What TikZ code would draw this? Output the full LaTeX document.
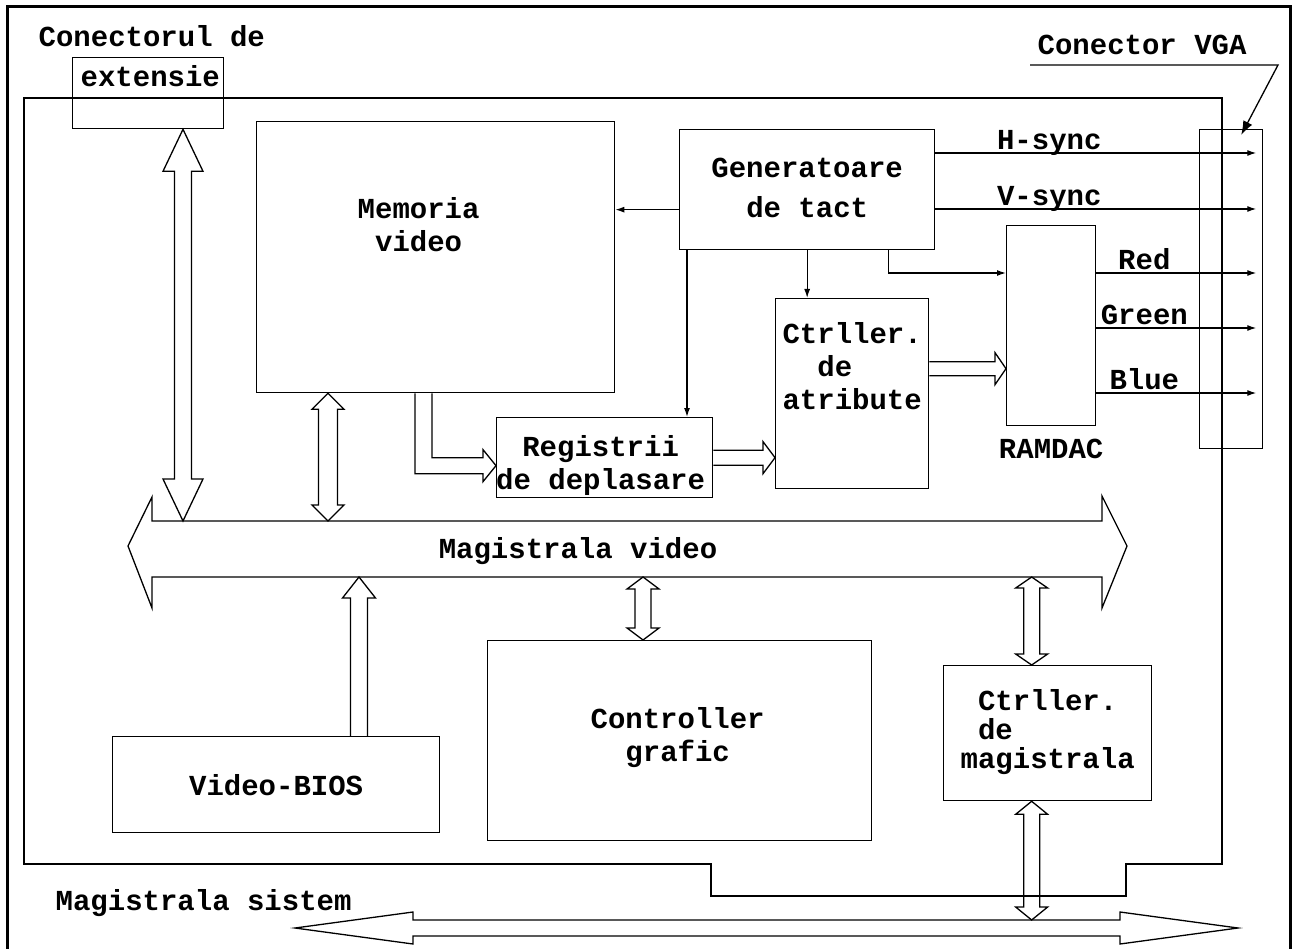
\documentclass[tikz,border=0pt]{standalone}
\usepackage{fontspec}
\setmonofont{Liberation Mono}
\usetikzlibrary{calc,positioning,arrows.meta}

% hollow bus arrows: vertical double, vertical single, horizontal single
\newcommand{\fatv}[5]{%
  \draw (#1) -- ++(#4,#5) -- ++(#3-#4,0) -- ($(#2)+(#3,-#5)$) -- ++(#4-#3,0)
    -- (#2) -- ++(-#4,-#5) -- ++(#4-#3,0) -- ($(#1)+(-#3,#5)$) -- ++(#3-#4,0) -- cycle;}
\newcommand{\fatup}[5]{%
  \draw ($(#2)+(-#3,0)$) -- ($(#1)+(-#3,#5)$) -- ++(#3-#4,0) -- (#1)
    -- ++(#4,#5) -- ++(#3-#4,0) -- ($(#2)+(#3,0)$);}
\newcommand{\fath}[5]{%
  \draw ($(#1)+(0,-#3)$) -- ($(#2)+(-#5,-#3)$) -- ++(0,#3-#4) -- (#2)
    -- ++(-#5,#4) -- ++(0,#3-#4) -- ($(#1)+(0,#3)$);}

\begin{document}
\begin{tikzpicture}[
    x=1pt, y=-1pt,
    line width=1.3pt,
    font=\ttfamily\bfseries\fontsize{29}{33}\selectfont,
    blok/.style={
        rectangle,
        draw,
        inner sep=0pt,
        anchor=north west
    },
    txt/.style={
        align=center,
        inner sep=0pt
    },
    sig/.style={
        -{Latex[length=9pt,width=6pt]}
    },
    lbl/.style={
        text depth=0pt
    }
  ]
  \useasboundingbox (0,0) rectangle (1297,949);
  \draw[line width=3pt] (7,949) -- (7,7) -- (1290,7) -- (1290,949);

  % placa video
  \draw (24,98) -- (1222,98) -- (1222,864) -- (1126,864) -- (1126,896)
     -- (711,896) -- (711,864) -- (24,864) -- cycle;

  % blocurile
  \node[blok, minimum width=151, minimum height=71] (ext) at (72,57) {};
  \node[blok, minimum width=358, minimum height=271] (mem) at (256,121) {};
  \node[blok, minimum width=255, minimum height=120] (gen) at (679,129) {};
  \node[blok, minimum width=216, minimum height=80] (reg) at (496,417) {};
  \node[blok, minimum width=153, minimum height=190] (atr) at (775,298) {};
  \node[blok, minimum width=89, minimum height=200] (ramdac) at (1006,225) {};
  \node[blok, minimum width=63, minimum height=319] (vga) at (1199,129) {};
  \node[blok, minimum width=327, minimum height=96] (bios) at (112,736) {};
  \node[blok, minimum width=384, minimum height=200] (graf) at (487,640) {};
  \node[blok, minimum width=208, minimum height=135] (bctl) at (943,665) {};

  % textele
  \node[anchor=base west, inner sep=0pt] (extlbl) at (38,47) {Conectorul de};
  \node[anchor=base west, inner sep=0pt] at ($(ext.north west)+(8,30)$) {extensie};
  \node[anchor=base west, inner sep=0pt] (vgalbl) at (1037,55) {Conector VGA};
  \node[txt] at ($(mem.center)+(-17,-33)$) {Memoria\\video};
  \node[txt] at ($(gen.center)+(0,-2)$) {Generatoare\\[7pt]de tact};
  \node[txt] at ($(reg.center)+(-4,8)$) {Registrii\\de deplasare};
  \node[txt] at ($(atr.center)+(0,-28)$) {Ctrller.\\de\phantom{xx}\\atribute};
  \node[txt] at ($(graf.center)+(-2,-3)$) {Controller\\grafic};
  \node[txt, font=\ttfamily\bfseries\fontsize{29}{29}\selectfont] at ($(bctl.center)+(0,-1)$) {Ctrller.\\de\phantom{xxxxxx}\\magistrala};
  \node[txt] at (bios.center) {Video-BIOS};
  \node[inner sep=0pt, below=12pt of ramdac] {RAMDAC};
  \node[anchor=base west, inner sep=0pt] (sislbl) at (55,910) {Magistrala sistem};

  % magistrala video
  \draw (128,546) -- (152,497) -- (152,521) -- (1102,521) -- (1102,496) -- (1127,546)
     -- (1102,608) -- (1102,577) -- (152,577) -- (152,608) -- cycle;
  \node[anchor=base, inner sep=0pt] (vbuslbl) at (578,558) {Magistrala video};
  \coordinate (vbT) at (0,521);
  \coordinate (vbB) at (0,577);

  % magistrala sistem
  \draw (295,928) -- (413,912) -- (413,920) -- (1120,920) -- (1120,912) -- (1238,928)
     -- (1120,944) -- (1120,936) -- (413,936) -- (413,944) -- cycle;
  \coordinate (sbT) at (0,920);

  % legaturi groase
  \path ($(ext.south west)+(111,0)$) coordinate (e1);
  \coordinate (e2) at (e1 |- vbT);
  \fatv{e1}{e2}{8.5}{20}{42}
  \path ($(mem.south west)+(72,0)$) coordinate (m1);
  \coordinate (m2) at (m1 |- vbT);
  \fatv{m1}{m2}{9.5}{16}{16}
  \path ($(graf.north west)+(156,0)$) coordinate (g1);
  \coordinate (g2) at (g1 |- vbB);
  \fatv{g2}{g1}{8}{16}{12}
  \path ($(bctl.north)+(-16,0)$) coordinate (b1);
  \coordinate (b2) at (b1 |- vbB);
  \fatv{b2}{b1}{8}{16}{11}
  \path ($(bctl.south)+(-16,0)$) coordinate (b3);
  \coordinate (b4) at (b3 |- sbT);
  \fatv{b3}{b4}{8}{16}{13}
  \path ($(bios.north west)+(247,0)$) coordinate (v1);
  \coordinate (v2) at (v1 |- vbB);
  \fatup{v2}{v1}{8.5}{16.5}{21}
  \coordinate (r1) at (reg.east);
  \coordinate (r2) at (reg.east -| atr.west);
  \fath{r1}{r2}{7.5}{16}{12}
  \path ($(atr.east)+(0,-25)$) coordinate (t1);
  \coordinate (t2) at (t1 -| ramdac.west);
  \fath{t1}{t2}{7}{16}{11}
  \draw ($(mem.south west)+(159,0)$) |- ($(reg.west)+(-13,16)$) -- ++(0,8)
     -- ($(reg.west)+(0,8)$) -- ++(-13,-16) -- ++(0,8) -| ($(mem.south west)+(176,0)$);

  % semnale de tact
  \path ($(gen.west)+(0,20)$) coordinate (c1);
  \draw[sig] (c1) -- (c1 -| mem.east);
  \path ($(gen.south west)+(8,0)$) coordinate (c2);
  \draw[sig] (c2) -- (c2 |- reg.north);
  \draw[sig] (gen.south) -- (gen.south |- atr.north);
  \draw[sig] ($(gen.south east)+(-47,0)$) |- ($(ramdac.north west)+(0,48)$);
  \draw[sig] ($(gen.north east)+(0,24)$) -- node[lbl, pos=.355, above] {H-sync}
     ($(vga.north east)+(-7,24)$);
  \draw[sig] ($(gen.north east)+(0,80)$) -- node[lbl, pos=.355, above] {V-sync}
     ($(vga.north east)+(-7,80)$);
  \draw[sig] ($(ramdac.north east)+(0,48)$) -- node[lbl, pos=.3, above] {Red}
     ($(vga.north east)+(-7,144)$);
  \draw[sig] ($(ramdac.north east)+(0,103)$) -- node[lbl, pos=.3, above] {Green}
     ($(vga.north east)+(-7,199)$);
  \draw[sig] ($(ramdac.north east)+(0,168)$) -- node[lbl, pos=.3, above] {Blue}
     ($(vga.north east)+(-7,264)$);

  % conector VGA
  \draw[-{Latex[length=14pt,width=10pt]}] ($(vgalbl.base west)+(-7,10)$) -- ++(248,0)
     -- ($(vga.north)+(10,6)$);
\end{tikzpicture}
\end{document}
